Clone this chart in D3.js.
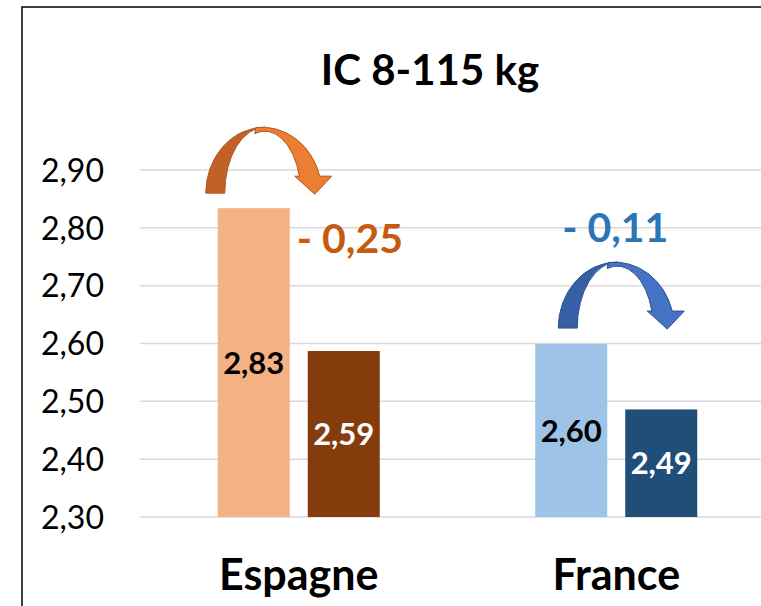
<!DOCTYPE html>
<html>
<head>
<meta charset="utf-8">
<script src="https://cdn.jsdelivr.net/npm/d3@7/dist/d3.min.js"></script>
<style>
  html, body { margin: 0; padding: 0; background: #ffffff; overflow: hidden; }
  svg { display: block; }
  text { font-family: Lato, "Open Sans", "Noto Sans", sans-serif; }
</style>
</head>
<body>
<svg id="chart" width="761" height="606"></svg>
<script>
// ---- data ----
const titleText = "IC 8-115 kg";
const categories = ["Espagne", "France"];
const seriesNames = ["Période 1", "Période 2"];
const valuesPeriod1 = [2.834, 2.599];
const valuesPeriod2 = [2.587, 2.486];
const yTicks = [2.30, 2.40, 2.50, 2.60, 2.70, 2.80, 2.90];

// ---- styles / layout ----
const W = 761, H = 606;
const barColors = {
  "Espagne": ["#F4B183", "#843C0C"],
  "France":  ["#9DC3E6", "#1F4E79"]
};
const labelColors = ["#000000", "#FFFFFF"];
const deltaColors = { "Espagne": "#C55A11", "France": "#2E75B6" };
const arrowColors = {
  "Espagne": { back: "#BF6129", front: "#ED7D31", stroke: "#AE5A21" },
  "France":  { back: "#3560A6", front: "#4472C4", stroke: "#2F528F" }
};
// annotation placement (pixel offsets relative to group centre / bar tops)
const arrowLayout = { "Espagne": { dx: -93, dy: -15 }, "France": { dx: -58, dy: -16 } };
const deltaLayout = {
  "Espagne": { anchor: "start",  dx: -2, dy: 44.5 },
  "France":  { anchor: "middle", dx: -1, dy: -102 }
};

const svg = d3.select("#chart");

const locale = d3.formatLocale({ decimal: ",", thousands: " ", grouping: [3], currency: ["", " €"] });
const fmt2 = locale.format(".2f");

const y = d3.scaleLinear().domain([2.30, 2.90]).range([517, 170]);
const x0 = d3.scaleBand().domain(categories).range([140, 775]).paddingInner(0).paddingOuter(0);
const groupW = 162;
const x1 = d3.scaleBand().domain(seriesNames).range([0, groupW]).paddingInner(0.2).paddingOuter(0);
const groupLeft = c => x0(c) + (x0.bandwidth() - groupW) / 2;

// chart border (only left and top edges visible in the frame)
svg.append("path")
  .attr("d", `M22,${H} V7 H${W}`)
  .attr("fill", "none").attr("stroke", "#000").attr("stroke-width", 1.5);

// title
svg.append("text")
  .attr("x", 430).attr("y", 85)
  .attr("text-anchor", "middle")
  .attr("font-size", 42).attr("font-weight", 700)
  .attr("fill", "#000")
  .text(titleText);

// gridlines
svg.append("g").selectAll("line").data(yTicks).join("line")
  .attr("x1", 140).attr("x2", W)
  .attr("y1", d => y(d)).attr("y2", d => y(d))
  .attr("stroke", "#D9D9D9").attr("stroke-width", 1.5);

// y axis labels
const yAxis = d3.axisLeft(y).tickValues(yTicks).tickFormat(fmt2).tickSize(0).tickPadding(0);
const yg = svg.append("g").attr("transform", "translate(104,0)").call(yAxis);
yg.select(".domain").remove();
yg.selectAll("text")
  .attr("font-family", "Lato, sans-serif")
  .attr("font-size", 32).attr("fill", "#000").attr("dy", "0.35em");

// x axis labels
const xAxis = d3.axisBottom(x0).tickSize(0).tickPadding(0);
const xg = svg.append("g").attr("transform", "translate(0,590)").call(xAxis);
xg.select(".domain").remove();
xg.selectAll("text")
  .attr("font-family", "Lato, sans-serif")
  .attr("font-size", 43).attr("font-weight", 700).attr("fill", "#000").attr("dy", 0);

// bars
const rows = [];
categories.forEach((c, i) => {
  rows.push({ cat: c, s: 0, series: seriesNames[0], value: valuesPeriod1[i] });
  rows.push({ cat: c, s: 1, series: seriesNames[1], value: valuesPeriod2[i] });
});

svg.append("g").selectAll("rect").data(rows).join("rect")
  .attr("x", d => groupLeft(d.cat) + x1(d.series))
  .attr("y", d => y(d.value))
  .attr("width", x1.bandwidth())
  .attr("height", d => y(2.30) - y(d.value))
  .attr("fill", d => barColors[d.cat][d.s]);

svg.append("g").selectAll("text").data(rows).join("text")
  .attr("x", d => groupLeft(d.cat) + x1(d.series) + x1.bandwidth() / 2)
  .attr("y", d => (y(d.value) + y(2.30)) / 2)
  .attr("dy", "0.36em")
  .attr("text-anchor", "middle")
  .attr("font-size", 31).attr("font-weight", 700)
  .attr("fill", d => labelColors[d.s])
  .text(d => fmt2(d.value));

// curved arrows + delta labels
function arrowPaths(L, B) {
  const back = `M${L},${B} A59,66 0 0 1 ${L + 59},${B - 66} A40,66 0 0 0 ${L + 19},${B} Z`;
  const front = `M${L + 50},${B - 65.7} A60,66 0 0 1 ${L + 114},${B - 17} ` +
    `L${L + 126},${B - 17} L${L + 109},${B + 1} L${L + 89},${B - 17} L${L + 93.6},${B - 17} ` +
    `A36,62 0 0 0 ${L + 49},${B - 59.6} Z`;
  return [back, front];
}

categories.forEach((c, i) => {
  const center = x0(c) + x0.bandwidth() / 2;
  const topY = y(valuesPeriod1[i]);
  const al = arrowLayout[c];
  const [back, front] = arrowPaths(center + al.dx, topY + al.dy);
  const col = arrowColors[c];
  svg.append("path").attr("d", back).attr("fill", col.back)
    .attr("stroke", col.stroke).attr("stroke-width", 1).attr("stroke-linejoin", "round");
  svg.append("path").attr("d", front).attr("fill", col.front)
    .attr("stroke", col.stroke).attr("stroke-width", 1).attr("stroke-linejoin", "round");

  const delta = valuesPeriod2[i] - valuesPeriod1[i];
  const dl = deltaLayout[c];
  let tx = center + dl.dx;
  if (dl.anchor === "start") tx = groupLeft(c) + x1(seriesNames[0]) + x1.bandwidth() + 7;
  svg.append("text")
    .attr("x", tx).attr("y", topY + dl.dy)
    .attr("text-anchor", dl.anchor)
    .attr("font-size", 41).attr("font-weight", 700)
    .attr("fill", deltaColors[c])
    .text((delta < 0 ? "- " : "+ ") + fmt2(Math.abs(delta)));
});
</script>
</body>
</html>
